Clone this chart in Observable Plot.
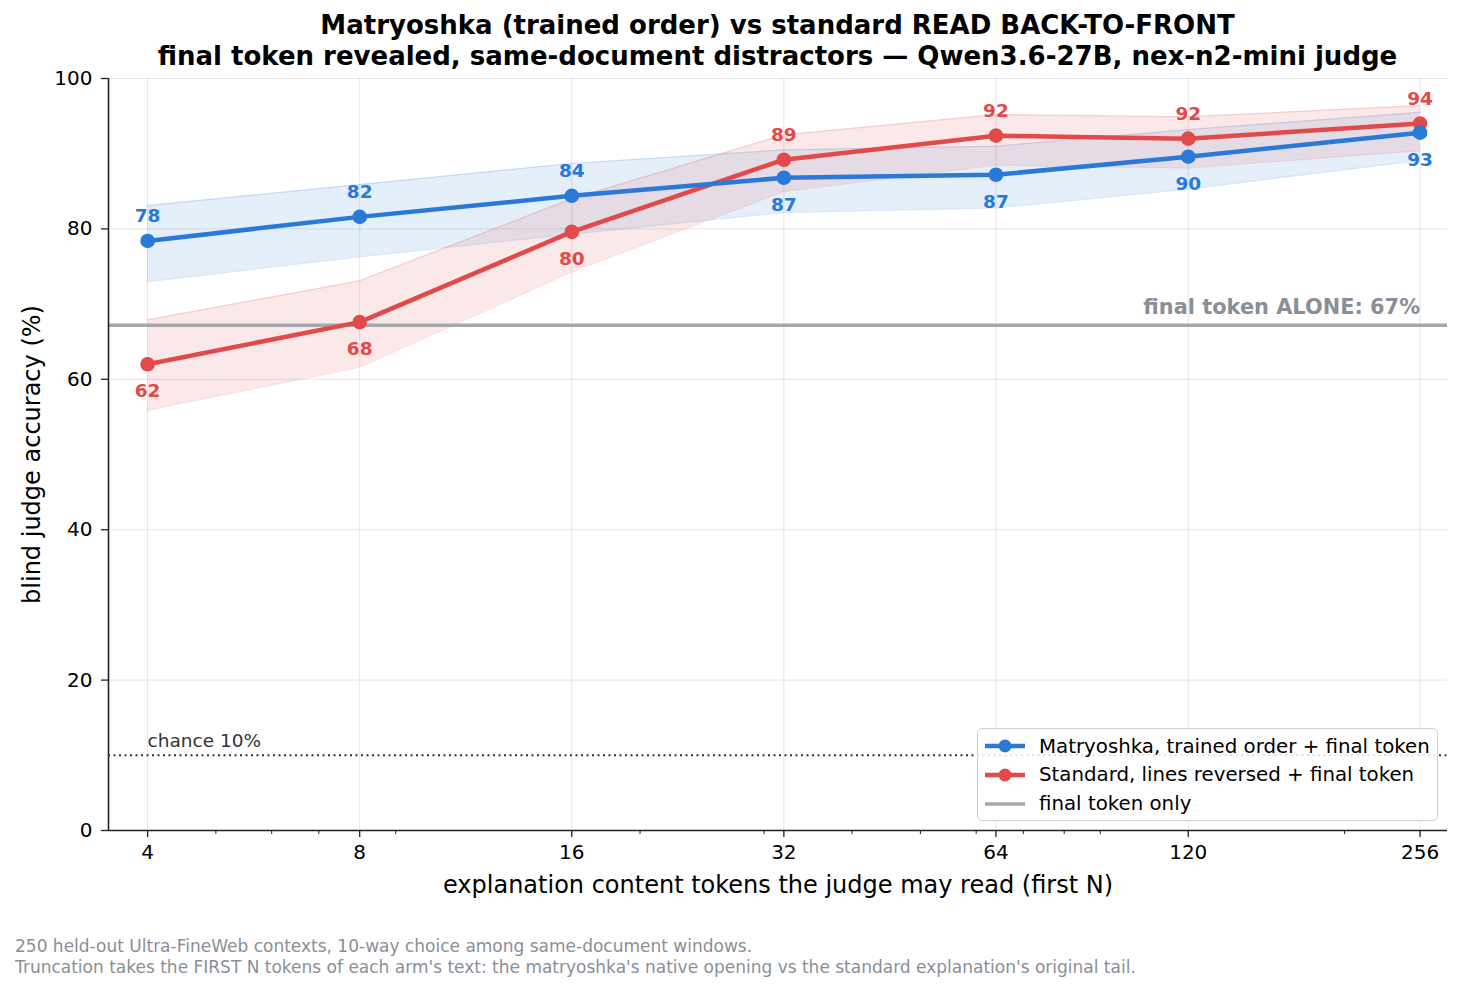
<!DOCTYPE html>
<html><head><meta charset="utf-8">
<script src="https://cdn.jsdelivr.net/npm/d3@7"></script>
<script src="https://cdn.jsdelivr.net/npm/@observablehq/plot@0.6"></script>
<style>
body{margin:0;background:#fff;font-family:"DejaVu Sans",sans-serif;}
#wrap{position:relative;width:1462px;height:992px;overflow:hidden;}
#title{position:absolute;top:10px;left:0;width:1555px;text-align:center;font-weight:bold;font-size:26px;line-height:31px;color:#000;}
#chart{position:absolute;top:0;left:0;}
#legend{position:absolute;left:977px;top:728px;width:461px;height:93px;border:1px solid #d0d0d0;border-radius:5px;background:rgba(255,255,255,0.85);box-sizing:border-box;}
.li{position:absolute;left:6px;height:28px;display:flex;align-items:center;font-size:19.8px;color:#000;white-space:nowrap;}
.li svg{margin-right:13px;}
#foot{position:absolute;left:15px;top:936px;font-size:17px;line-height:21px;color:#8a8f97;white-space:nowrap;}
</style></head>
<body><div id="wrap">
<div id="chart"></div>
<div id="title"></div>
<div id="legend"></div>
<div id="foot"></div>
</div>
<script>
const tokens = [4, 8, 16, 32, 64, 120, 256];
const matryoshka = [78.4, 81.6, 84.4, 86.8, 87.2, 89.6, 92.8];
const matLo = [73.0, 76.3, 79.3, 82.2, 82.8, 85.3, 89.1];
const matHi = [83.1, 85.9, 88.7, 90.5, 91.0, 93.2, 95.5];
const standard = [62.0, 67.6, 79.6, 89.2, 92.4, 92.0, 94.0];
const stdLo = [55.9, 61.6, 74.3, 85.0, 88.5, 88.1, 90.4];
const stdHi = [67.9, 73.1, 84.0, 92.5, 95.2, 94.9, 96.4];
const finalAlone = 67.2;
const chance = 10;
const xDomain = [3.52, 280];
const yTicks = [0, 20, 40, 60, 80, 100];
const minorTicks = [5, 6, 7, 9, 20, 30, 40, 50, 60, 70, 80, 90, 200];
const seriesNames = ["Matryoshka, trained order + final token", "Standard, lines reversed + final token", "final token only"];
const titleLines = ["Matryoshka (trained order) vs standard READ BACK-TO-FRONT", "final token revealed, same-document distractors — Qwen3.6-27B, nex-n2-mini judge"];
const xLabel = "explanation content tokens the judge may read (first N)";
const yLabel = "blind judge accuracy (%)";
const aloneLabel = "final token ALONE: 67%";
const chanceLabel = "chance 10%";
const footLines = ["250 held-out Ultra-FineWeb contexts, 10-way choice among same-document windows.", "Truncation takes the FIRST N tokens of each arm's text: the matryoshka's native opening vs the standard explanation's original tail."];

const BLUE = "#2a78d8", RED = "#e24a4a", GRAY = "#a4a8ae";

const mat = tokens.map((n, i) => ({n, v: matryoshka[i], lo: matLo[i], hi: matHi[i], other: standard[i]}));
const std = tokens.map((n, i) => ({n, v: standard[i], lo: stdLo[i], hi: stdHi[i], other: matryoshka[i]}));

function bandMarks(data, color) {
  return [
    Plot.areaY(data, {x: "n", y1: "lo", y2: "hi", fill: color, fillOpacity: 0.12}),
    Plot.lineY(data, {x: "n", y: "lo", stroke: color, strokeOpacity: 0.18, strokeWidth: 1.2}),
    Plot.lineY(data, {x: "n", y: "hi", stroke: color, strokeOpacity: 0.18, strokeWidth: 1.2}),
  ];
}
function seriesTop(data, color) {
  const above = data.filter(d => d.v > d.other);
  const below = data.filter(d => d.v <= d.other);
  return [
    Plot.lineY(data, {x: "n", y: "v", stroke: color, strokeWidth: 4.5}),
    Plot.dot(data, {x: "n", y: "v", r: 7.3, fill: color}),
    Plot.text(above, {x: "n", y: "v", text: d => Math.round(d.v), dy: -25, fill: color, fontWeight: "bold", fontSize: 18.5}),
    Plot.text(below, {x: "n", y: "v", text: d => Math.round(d.v), dy: 27, fill: color, fontWeight: "bold", fontSize: 18.5}),
  ];
}

const chart = Plot.plot({
  width: 1462, height: 910,
  marginLeft: 108, marginRight: 15, marginTop: 78, marginBottom: 80,
  style: {fontFamily: "DejaVu Sans", fontSize: "20px", color: "#000", background: "transparent"},
  x: {type: "log", domain: xDomain, axis: null},
  y: {domain: [0, 100], axis: null},
  marks: [
    Plot.gridX(tokens, {stroke: "#000", strokeOpacity: 0.1}),
    Plot.gridY(yTicks, {stroke: "#000", strokeOpacity: 0.1}),
    ...bandMarks(mat, BLUE),
    ...bandMarks(std, RED),
    Plot.ruleY([finalAlone], {stroke: GRAY, strokeWidth: 3.5}),
    Plot.ruleY([chance], {stroke: "#333", strokeWidth: 2, strokeDasharray: "2,3.5"}),
    Plot.text([aloneLabel], {x: tokens[tokens.length - 1], y: finalAlone, text: d => d, textAnchor: "end", dy: -18, fill: "#8a8f97", fontWeight: "bold", fontSize: 20.9}),
    Plot.text([chanceLabel], {x: tokens[0], y: chance, text: d => d, textAnchor: "start", dy: -14, fill: "#333", fontSize: 18.5}),
    ...seriesTop(std, RED),
    ...seriesTop(mat, BLUE),
    Plot.ruleX([xDomain[0]], {stroke: "#222", strokeWidth: 1.6}),
    Plot.ruleY([0], {stroke: "#222", strokeWidth: 1.6}),
    Plot.axisX(tokens, {label: null, tickSize: 7, tickPadding: 7, tickFormat: d => String(d), fontSize: 20, stroke: "#222", strokeWidth: 1.3}),
    Plot.axisX(minorTicks, {label: null, tickSize: 4, tickFormat: () => "", stroke: "#222", strokeWidth: 1}),
    Plot.axisY(yTicks, {label: null, tickSize: 7, tickPadding: 9, fontSize: 20, stroke: "#222", strokeWidth: 1.3}),
    Plot.text([xLabel], {frameAnchor: "bottom", lineAnchor: "middle", dy: 55, text: d => d, fontSize: 24, fill: "#000"}),
    Plot.text([yLabel], {frameAnchor: "left", textAnchor: "middle", lineAnchor: "middle", dx: -76, rotate: -90, text: d => d, fontSize: 24, fill: "#000"}),
  ]
});
document.getElementById("chart").appendChild(chart);

document.getElementById("title").innerHTML = titleLines.map(t => `<div>${t}</div>`).join("");
document.getElementById("foot").innerHTML = footLines.map(t => `<div>${t}</div>`).join("");

const legendItems = [
  {name: seriesNames[0], color: BLUE, dot: true},
  {name: seriesNames[1], color: RED, dot: true},
  {name: seriesNames[2], color: GRAY, dot: false},
];
const leg = document.getElementById("legend");
legendItems.forEach((it, i) => {
  const el = document.createElement("div");
  el.className = "li";
  el.style.top = (3 + i * 28.8) + "px";
  el.innerHTML = `<svg width="42" height="20"><line x1="1" y1="10" x2="41" y2="10" stroke="${it.color}" stroke-width="${it.dot ? 4.5 : 3.5}"/>${it.dot ? `<circle cx="21" cy="10" r="6.5" fill="${it.color}"/>` : ""}</svg><span>${it.name}</span>`;
  leg.appendChild(el);
});
</script>
</body></html>
